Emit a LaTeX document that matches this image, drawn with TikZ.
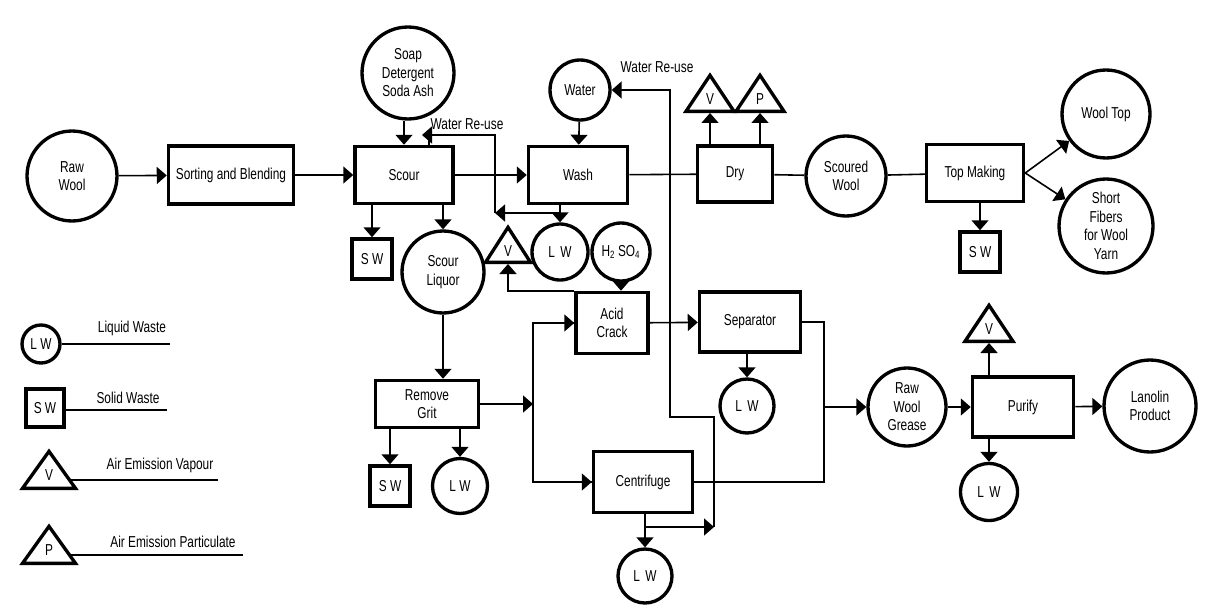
\documentclass[tikz,border=0pt]{standalone}
\usepackage{fontspec}
\setmainfont{Liberation Sans}[FakeStretch=0.75]
\usepackage{tikz}
\usetikzlibrary{arrows.meta,shapes.geometric}

\begin{document}
\begin{tikzpicture}[x=0.02cm, y=-0.02cm,
  font=\fontsize{9}{10.5}\selectfont,
  proc/.style={draw, line width=2pt, align=center, inner sep=1pt},
  flow/.style={draw, circle, line width=1.9pt, align=center, inner sep=0pt},
  waste/.style={draw, line width=2pt, minimum size=0.8cm, inner sep=0pt},
  emis/.style={draw, isosceles triangle, shape border rotate=90,
    isosceles triangle stretches, line width=1.9pt,
    minimum width=0.96cm, minimum height=0.72cm, inner sep=0pt},
  arr/.style={-{Triangle[length=0.2cm, width=0.34cm]}, line width=0.9pt},
  ln/.style={line width=0.9pt}]
\useasboundingbox (0,0) rectangle (1212,615);

% wool line
\node[flow, minimum size=1.8cm] (raw) at (72,176) {Raw\\Wool};
\node[proc, minimum width=2.5cm, minimum height=1.16cm] (sort) at (231,175) {Sorting and Blending};
\node[proc, minimum width=1.96cm, minimum height=1.14cm] (scour) at (404,175) {Scour};
\node[flow, minimum size=1.84cm] (soap) at (408,73) {Soap\\Detergent\\Soda Ash};
\node[proc, minimum width=1.98cm, minimum height=1.14cm] (wash) at (578,175) {Wash};
\node[flow, minimum size=1.2cm] (water) at (580,90) {Water};
\node[proc, minimum width=1.5cm, minimum height=1.12cm] (dry) at (735,174) {Dry};
\node[emis, anchor=lower side] (dv) at (710,113) {V};
\node[emis, anchor=lower side] (dp) at (760,113) {P};
\node[flow, minimum size=1.6cm] (scoured) at (846,176) {Scoured\\Wool};
\node[proc, minimum width=1.94cm, minimum height=1.14cm] (top) at (975,173) {Top Making};
\node[flow, minimum size=1.76cm] (wooltop) at (1106,114) {Wool Top};
\node[flow, minimum size=1.88cm] (short) at (1106,226) {Short\\Fibers\\for Wool\\Yarn};
\node[waste] (topsw) at (980,252) {S W};

% liquor line
\node[waste] (scoursw) at (372,259) {S W};
\node[flow, minimum size=1.64cm] (liquor) at (443,272) {Scour\\Liquor};
\node[emis, anchor=lower side, minimum width=0.9cm, minimum height=0.7cm] (lv) at (508,264) {V};
\node[flow, minimum size=1.12cm] (washlw) at (560,252) {L\,\,W};
\node[flow, minimum size=1.16cm] (acid) at (621,252) {H\textsubscript{2}\,SO\textsubscript{4}};
\node[proc, minimum width=1.44cm, minimum height=1.22cm] (crack) at (612,323) {Acid\\Crack};
\node[proc, minimum width=2.02cm, minimum height=1.2cm] (sep) at (750,322) {Separator};
\node[flow, minimum size=1.08cm] (seplw) at (747,406) {L\,\,W};
\node[proc, minimum width=2.06cm, minimum height=0.94cm] (grit) at (427,404) {Remove\\Grit};
\node[waste] (gritsw) at (390,486) {S W};
\node[flow, minimum size=1.1cm] (gritlw) at (460,486) {L W};
\node[proc, minimum width=1.98cm, minimum height=1.22cm] (cent) at (643,482) {Centrifuge};
\node[flow, minimum size=1.08cm] (centlw) at (645,576) {L\,\,W};
\node[flow, minimum size=1.56cm] (grease) at (907,407) {Raw\\Wool\\Grease};
\node[proc, minimum width=2.02cm, minimum height=1.2cm] (purify) at (1023,407) {Purify};
\node[emis, anchor=lower side] (pv) at (989,343) {V};
\node[flow, minimum size=1.14cm] (purlw) at (989,492) {L\,\,W};
\node[flow, minimum size=1.84cm] (lanolin) at (1150,406) {Lanolin\\Product};

% re-use labels
\node (reuse1) at (467,124) {Water Re-use};
\node (reuse2) at (657,67) {Water Re-use};

% key
\node[flow, minimum size=0.76cm] (klw) at (41,344) {L W};
\node[waste, minimum size=0.76cm] (ksw) at (45,408) {S W};
\node[emis, anchor=lower side, minimum width=1.06cm, minimum height=0.74cm] (kv) at (49,490) {V};
\node[emis, anchor=lower side, minimum width=1.06cm, minimum height=0.74cm] (kp) at (49,565) {P};
\node[anchor=south] (tlw) at (132,342) {Liquid Waste};
\node[anchor=south] (tsw) at (128,410) {Solid Waste};
\node[anchor=south] (tv) at (160,479) {Air Emission Vapour};
\node[anchor=south] (tp) at (173,554) {Air Emission Particulate};
\coordinate (klwe) at (170,344);
\coordinate (kswe) at (167,410);
\coordinate (kve) at (218,480);
\coordinate (kpe) at (243,555);
\draw[ln] (klw.east) -- (klwe);
\draw[ln] (ksw.east |- kswe) -- (kswe);
\draw[ln] (kve) -- (kve -| 68,0);
\draw[ln] (kpe) -- (kpe -| 70,0);

% junctions
\coordinate (wj) at (560,213);
\coordinate (ru) at (495,213);
\coordinate (rs) at (422,135);
\coordinate (gj) at (533,404);
\coordinate (cb) at (644,527);
\coordinate (ce) at (714,527);
\coordinate (rb) at (670,417);
\coordinate (sj) at (824,407);

% connectors
\draw[arr] (raw) -- (sort);
\draw[arr] (sort) -- (scour);
\draw[arr] (soap.south -| scour) -- (scour);
\draw[arr] (scour) -- (wash);
\draw[arr] (water) -- (wash);
\draw[ln] (wash) -- (dry);
\draw[arr] (dry.north -| dv) -- (dv);
\draw[arr] (dry.north -| dp) -- (dp);
\draw[ln] (dry) -- (scoured);
\draw[ln] (scoured) -- (top);
\draw[arr] (top.east) -- (wooltop);
\draw[arr] (top.east) -- (short);
\draw[arr] (top.south -| topsw) -- (topsw);
\draw[arr] (scour.south -| scoursw) -- (scoursw);
\draw[arr] (scour.south -| liquor) -- (liquor);
\draw[arr] (wash.south -| washlw) -- (washlw);
\draw[arr] (wj) -- (ru);
\draw[arr] (ru) |- (rs);
\draw[ln] ([xshift=0.14cm]rs) -- ([xshift=0.14cm]rs |- scour.north);
\draw[arr] (crack.north west) -| (lv);
\draw[arr] (acid) -- (acid |- crack.north);
\draw[arr] (crack) -- (sep);
\draw[arr] (sep.south -| seplw) -- (seplw);
\draw[arr] (liquor) -- (liquor |- grit.north);
\draw[arr] (grit.south -| gritsw) -- (gritsw);
\draw[arr] (grit.south -| gritlw) -- (gritlw);
\draw[arr] (grit.east) -- (gj);
\draw[ln] (gj) |- (crack);
\draw[ln] (gj) |- (cent);
\draw[arr] (gj |- crack) -- (crack);
\draw[arr] (gj |- cent) -- (cent);
\draw[arr] (cent.south -| centlw) -- (centlw);
\draw[arr] (cb) -- (ce);
\draw[arr] (ce) |- (rb) |- (water.east);
\draw[ln] (sep.east) -| (sj);
\draw[ln] (cent.east) -| (sj);
\draw[arr] (sj) -- (grease);
\draw[arr] (grease) -- (purify);
\draw[arr] (purify.north -| pv) -- (pv);
\draw[arr] (purify.south -| purlw) -- (purlw);
\draw[arr] (purify) -- (lanolin);
\end{tikzpicture}
\end{document}
